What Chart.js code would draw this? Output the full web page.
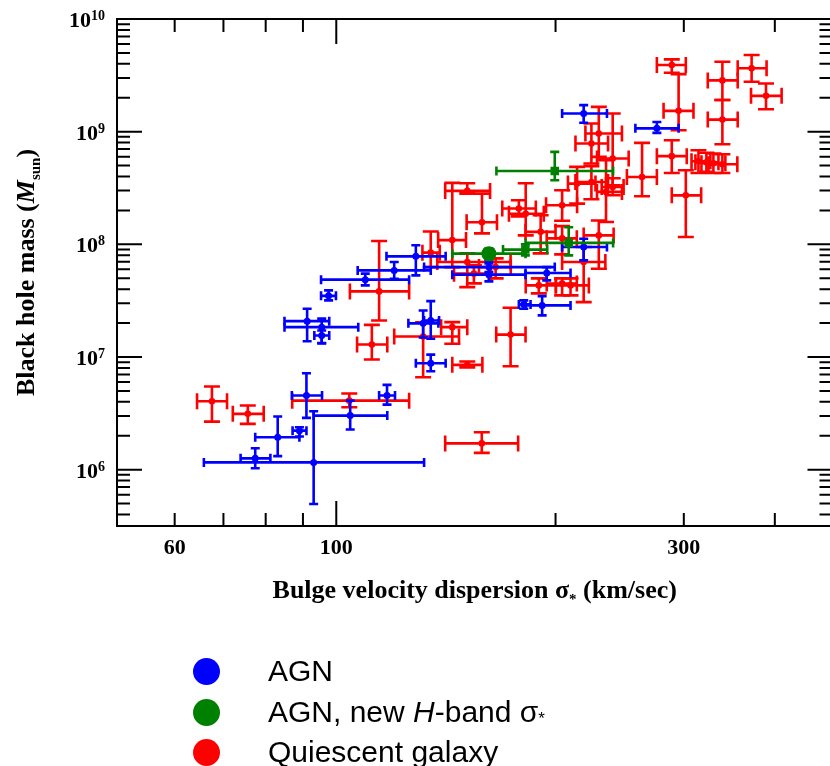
<!DOCTYPE html>
<html>
<head>
<meta charset="utf-8">
<title>Black hole mass vs bulge velocity dispersion</title>
<script src="https://cdn.jsdelivr.net/npm/chart.js@4.4.1/dist/chart.umd.min.js"></script>
<style>
  html, body { margin: 0; padding: 0; background: #fff; overflow: hidden; }
  #wrap { position: relative; width: 840px; height: 620px; }
  .legend { position: absolute; left: 0; top: 0; width: 830px; height: 766px; pointer-events: none;
            font-family: "Liberation Sans", Arial, sans-serif; font-size: 30px; color: #000; }
  .legend .row { position: absolute; left: 193px; height: 40px; line-height: 40px; white-space: nowrap; }
  .legend .dot { display: inline-block; width: 27px; height: 27px; border-radius: 50%;
                 vertical-align: middle; margin: -4px 48px 0 0; }
  .legend sub { font-size: 17px; vertical-align: -2px; }
</style>
</head>
<body>
<div id="wrap"><canvas id="msigma" width="840" height="620"></canvas></div>
<div class="legend">
  <div class="row" style="top:651px"><span class="dot" style="background:#0000ff"></span>AGN</div>
  <div class="row" style="top:692px"><span class="dot" style="background:#008000"></span>AGN, new <i>H</i>-band σ<sub>*</sub></div>
  <div class="row" style="top:732px"><span class="dot" style="background:#ff0000"></span>Quiescent galaxy</div>
</div>
<script>
// AGN (reverberation masses)
const agnSigma   = [77.4, 93.1, 83.1, 89.0, 91.0, 104.5, 117.4, 97.6, 91.2, 95.5, 95.5, 109.6, 120.1, 128.6, 131.6, 134.8, 134.8, 162.0, 162.0, 194.5, 218.6, 180.9, 191.7, 218.6, 275.5];
const agnSigmaLo = [73.9, 65.8, 77.4, 87.1, 86.9, 93.1, 114.5, 95.3, 84.9, 84.9, 93.3, 95.3, 107.0, 117.2, 125.6, 132.0, 128.6, 132.0, 144.3, 181.9, 204.2, 178.1, 181.9, 204.2, 257.4];
const agnSigmaHi = [81.2, 132.0, 89.0, 91.0, 95.6, 117.5, 120.4, 99.9, 97.8, 107.2, 97.8, 125.9, 134.8, 141.3, 138.1, 138.4, 141.3, 199.5, 181.9, 209.7, 235.3, 184.8, 209.7, 235.3, 295.1];
const agnMass    = [1.26e6, 1.16e6, 1.94e6, 2.22e6, 4.55e6, 3.02e6, 4.55e6, 3.49e7, 2.08e7, 1.84e7, 1.55e7, 4.86e7, 5.87e7, 7.82e7, 1.99e7, 2.11e7, 8.81e6, 6.28e7, 5.38e7, 5.56e7, 9.47e7, 2.93e7, 2.87e7, 1.45e9, 1.07e9];
const agnMassLo  = [1.03e6, 4.96e5, 1.32e6, 1.97e6, 2.88e6, 2.27e6, 3.78e6, 3.18e7, 1.38e7, 1.33e7, 1.32e7, 4.32e7, 4.95e7, 5.3e7, 1.49e7, 1.45e7, 7.48e6, 5.67e7, 4.69e7, 4.79e7, 7.21e7, 2.68e7, 2.34e7, 1.2e9, 9.75e8];
const agnMassHi  = [1.55e6, 3.3e6, 2.96e6, 2.38e6, 7.18e6, 4.1e6, 5.66e6, 3.9e7, 2.68e7, 2.19e7, 1.72e7, 5.49e7, 6.96e7, 9.8e7, 2.59e7, 3.13e7, 1.05e7, 7.21e7, 6.78e7, 6.28e7, 1.12e8, 3.18e7, 3.47e7, 1.72e9, 1.22e9];

// AGN with new H-band sigma
const hSigma   = [199.5, 162.0, 181.8, 208.5];
const hSigmaLo = [165.9, 144.3, 169.4, 181.9];
const hSigmaHi = [239.9, 181.9, 194.8, 239.9];
const hMass    = [4.48e8, 8.27e7, 8.98e7, 1.03e8];
const hMassLo  = [3.71e8, 7.36e7, 7.98e7, 7.98e7];
const hMassHi  = [6.61e8, 9.21e7, 1.0e8, 1.42e8];

// quiescent galaxies
const qSigma   = [67.5, 75.6, 104.2, 111.9, 114.5, 131.6, 144.3, 151.3, 173.5, 158.4,
                  151.3, 144.3, 158.5, 134.8, 151.3, 154.5, 165.5, 178.1, 182.0, 190.8,
                  204.2, 214.1, 224.0, 204.2, 229.3, 218.6, 189.7, 204.2, 209.7,
                  224.0, 229.3, 239.6, 234.6, 239.6, 262.9, 288.8, 301.9,
                  314.2, 322.2, 329.4, 338.9,
                  295.1, 288.8, 338.9, 338.9, 371.7, 389.0];
const qSigmaLo = [64.4, 72.1, 87.0, 106.8, 104.4, 120.1, 139.3, 144.3, 165.8, 141.1,
                  141.1, 138.0, 151.0, 131.3, 137.6, 145.1, 157.0, 169.0, 172.6, 181.9,
                  194.1, 208.0, 213.0, 194.5, 218.6, 204.2, 182.0, 194.5, 200.2,
                  213.0, 219.8, 228.0, 228.0, 231.4, 250.6, 275.5, 288.8,
                  307.4, 311.2, 317.2, 324.3,
                  281.4, 275.5, 323.6, 323.6, 355.7, 371.0];
const qSigmaHi = [70.8, 79.5, 125.9, 117.5, 125.9, 147.4, 151.3, 158.7, 181.9, 177.7,
                  162.6, 150.7, 166.2, 138.7, 173.5, 163.1, 173.6, 187.9, 192.7, 200.0,
                  214.1, 226.9, 236.1, 213.9, 240.3, 234.1, 200.2, 213.9, 222.2,
                  236.1, 246.7, 252.0, 246.7, 248.0, 275.5, 302.8, 316.9,
                  326.3, 334.7, 342.1, 355.3,
                  309.3, 301.9, 355.7, 355.7, 389.7, 408.7];
const qMass    = [4.05e6, 3.13e6, 4.1e6, 1.29e7, 3.82e7, 1.52e7, 1.84e7, 8.52e6, 1.58e7, 1.71e6,
                  2.98e8, 1.09e8, 1.57e8, 8.44e7, 6.96e7, 5.49e7, 6.28e7, 2.08e8, 1.87e8, 1.29e8,
                  2.22e8, 3.46e8, 3.58e8, 1.13e8, 1.2e8, 6.96e7, 4.32e7, 4.48e7, 4.32e7,
                  7.86e8, 9.64e8, 5.78e8, 2.92e8, 3.23e8, 3.96e8, 6.06e8, 2.72e8,
                  5.47e8, 5.36e8, 5.25e8, 5.14e8,
                  1.53e9, 3.9e9, 2.85e9, 1.28e9, 3.65e9, 2.08e9];
const qMassLo  = [2.67e6, 2.55e6, 3.58e6, 9.5e6, 2.11e7, 6.61e6, 1.31e7, 8.07e6, 8.29e6, 1.41e6,
                  2.82e8, 6.28e7, 1.25e8, 6.28e7, 4.17e7, 4.5e7, 4.99e7, 1.77e8, 1.2e8, 8.32e7,
                  1.62e8, 2.3e8, 2.51e8, 8.15e7, 6.08e7, 3.07e7, 3.67e7, 3.52e7, 3.52e7,
                  5.22e8, 5.97e8, 3.35e8, 1.58e8, 2.73e8, 2.67e8, 4.3e8, 1.16e8,
                  4.3e8, 4.4e8, 4.3e8, 4.3e8,
                  1.03e9, 3.33e9, 1.91e9, 7.74e8, 2.77e9, 1.58e9];
const qMassHi  = [5.47e6, 3.71e6, 4.74e6, 1.93e7, 1.07e8, 2.03e7, 2.04e7, 9.12e6, 2.74e7, 2.15e6,
                  3.48e8, 3.51e8, 2.82e8, 1.3e8, 8.32e7, 6.51e7, 7.51e7, 2.46e8, 3.48e8, 1.81e8,
                  3.02e8, 4.87e8, 4.94e8, 1.45e8, 1.63e8, 9.46e7, 4.99e7, 4.99e7, 4.99e7,
                  1.18e9, 1.66e9, 1.45e9, 5.58e8, 3.86e8, 7.95e8, 8.4e8, 4.55e8,
                  6.85e8, 6.5e8, 6.4e8, 6.3e8,
                  3.24e9, 4.38e9, 4.17e9, 1.91e9, 4.79e9, 2.68e9];

// axis ticks
const xTickLabels = [60, 100, 300];
const xMajorTicks = [100];
const xMinorTicks = [60, 70, 80, 90, 200, 300, 400];
const yDecades = [6, 7, 8, 9, 10];

const serif = '"Liberation Serif", "Times New Roman", serif';

function toPoints(sig, sLo, sHi, m, mLo, mHi) {
    return sig.map((s, i) => ({ x: s, y: m[i], xMin: sLo[i], xMax: sHi[i], yMin: mLo[i], yMax: mHi[i] }));
}

// error bars with end caps, drawn under each dataset's markers
const errorBars = {
    id: 'errorBars',
    beforeDatasetDraw(chart, args) {
        const ds = chart.data.datasets[args.index];
        const xs = chart.scales.x, ys = chart.scales.y;
        const ctx = chart.ctx;
        const cap = ds.capSize;
        ctx.save();
        ctx.strokeStyle = ds.borderColor;
        ctx.lineWidth = 2.6;
        ctx.lineCap = 'butt';
        ds.data.forEach(p => {
            const px = xs.getPixelForValue(p.x), py = ys.getPixelForValue(p.y);
            const x0 = xs.getPixelForValue(p.xMin), x1 = xs.getPixelForValue(p.xMax);
            const y0 = ys.getPixelForValue(p.yMin), y1 = ys.getPixelForValue(p.yMax);
            ctx.beginPath();
            ctx.moveTo(x0, py); ctx.lineTo(x1, py);
            ctx.moveTo(x0, py - cap); ctx.lineTo(x0, py + cap);
            ctx.moveTo(x1, py - cap); ctx.lineTo(x1, py + cap);
            ctx.moveTo(px, y0); ctx.lineTo(px, y1);
            ctx.moveTo(px - cap, y0); ctx.lineTo(px + cap, y0);
            ctx.moveTo(px - cap, y1); ctx.lineTo(px + cap, y1);
            ctx.stroke();
        });
        ctx.restore();
    }
};

// draw a line of mixed-font text pieces starting at x
function drawRuns(ctx, runs, x, y) {
    runs.forEach(r => {
        ctx.font = r.font;
        ctx.fillText(r.text, x, y + (r.dy || 0));
        x += ctx.measureText(r.text).width;
    });
}
function runsWidth(ctx, runs) {
    return runs.reduce((w, r) => { ctx.font = r.font; return w + ctx.measureText(r.text).width; }, 0);
}

// frame, inward ticks, labels and titles
const frameAxes = {
    id: 'frameAxes',
    afterDraw(chart) {
        const { ctx, chartArea: a } = chart;
        const xs = chart.scales.x, ys = chart.scales.y;
        ctx.save();
        ctx.strokeStyle = '#000';
        ctx.fillStyle = '#000';
        ctx.lineWidth = 2;
        ctx.strokeRect(a.left, a.top, a.right - a.left, a.bottom - a.top);

        ctx.beginPath();
        const xTick = (v, len) => {
            const px = xs.getPixelForValue(v);
            ctx.moveTo(px, a.bottom); ctx.lineTo(px, a.bottom - len);
            ctx.moveTo(px, a.top); ctx.lineTo(px, a.top + len);
        };
        xMinorTicks.forEach(v => xTick(v, 13));
        xMajorTicks.forEach(v => xTick(v, 25));
        const yTick = (v, len) => {
            const py = ys.getPixelForValue(v);
            if (py < a.top - 0.5 || py > a.bottom + 0.5) return;
            ctx.moveTo(a.left, py); ctx.lineTo(a.left + len, py);
            ctx.moveTo(a.right, py); ctx.lineTo(a.right - len, py);
        };
        for (let e = 5; e <= 10; e++) {
            yTick(Math.pow(10, e), 25);
            if (e < 10) for (let k = 2; k <= 9; k++) yTick(k * Math.pow(10, e), 13);
        }
        ctx.stroke();

        // x tick labels
        ctx.font = 'bold 22px ' + serif;
        ctx.textAlign = 'center';
        ctx.textBaseline = 'alphabetic';
        xTickLabels.forEach(v => ctx.fillText(String(v), xs.getPixelForValue(v), a.bottom + 28));

        // y tick labels as powers of ten
        ctx.textAlign = 'left';
        yDecades.forEach(e => {
            const py = ys.getPixelForValue(Math.pow(10, e));
            const runs = [
                { text: '10', font: 'bold 22px ' + serif },
                { text: String(e), font: 'bold 14px ' + serif, dy: -7 }
            ];
            drawRuns(ctx, runs, 105 - runsWidth(ctx, runs), py + 8);
        });

        // x axis title
        const xt = [
            { text: 'Bulge velocity dispersion σ', font: 'bold 26px ' + serif },
            { text: '*', font: 'bold 15px ' + serif, dy: 6 },
            { text: ' (km/sec)', font: 'bold 26px ' + serif }
        ];
        drawRuns(ctx, xt, (a.left + a.right) / 2 - runsWidth(ctx, xt) / 2, 598);

        // y axis title
        const yt = [
            { text: 'Black hole mass (', font: 'bold 26px ' + serif },
            { text: 'M', font: 'italic bold 26px ' + serif },
            { text: 'sun', font: 'bold 15px ' + serif, dy: 6 },
            { text: ')', font: 'bold 26px ' + serif }
        ];
        ctx.translate(34, (a.top + a.bottom) / 2);
        ctx.rotate(-Math.PI / 2);
        drawRuns(ctx, yt, -runsWidth(ctx, yt) / 2, 0);
        ctx.restore();
    }
};

new Chart(document.getElementById('msigma').getContext('2d'), {
    type: 'scatter',
    data: {
        datasets: [
            {
                label: 'AGN, new H-band σ*',
                data: toPoints(hSigma, hSigmaLo, hSigmaHi, hMass, hMassLo, hMassHi),
                backgroundColor: '#008000',
                borderColor: '#008000',
                pointStyle: ['rect', 'circle', 'rect', 'rect'],
                pointRadius: [6, 7.5, 6, 6],
                borderWidth: 0,
                capSize: 4.5,
                order: 1
            },
            {
                label: 'AGN',
                data: toPoints(agnSigma, agnSigmaLo, agnSigmaHi, agnMass, agnMassLo, agnMassHi),
                backgroundColor: '#0000ff',
                borderColor: '#0000ff',
                pointRadius: 3.5,
                borderWidth: 0,
                capSize: 4.5,
                order: 2
            },
            {
                label: 'Quiescent galaxy',
                data: toPoints(qSigma, qSigmaLo, qSigmaHi, qMass, qMassLo, qMassHi),
                backgroundColor: '#ff0000',
                borderColor: '#ff0000',
                pointRadius: 3.3,
                borderWidth: 0,
                capSize: 8,
                order: 3
            }
        ]
    },
    options: {
        responsive: false,
        animation: false,
        layout: { padding: { left: 117, top: 19, right: 6, bottom: 94 } },
        plugins: { legend: { display: false }, tooltip: { enabled: false } },
        scales: {
            x: { type: 'logarithmic', min: 50, max: 480, display: false },
            y: { type: 'logarithmic', min: Math.pow(10, 5.5), max: 1e10, display: false }
        }
    },
    plugins: [errorBars, frameAxes]
});
</script>
</body>
</html>
